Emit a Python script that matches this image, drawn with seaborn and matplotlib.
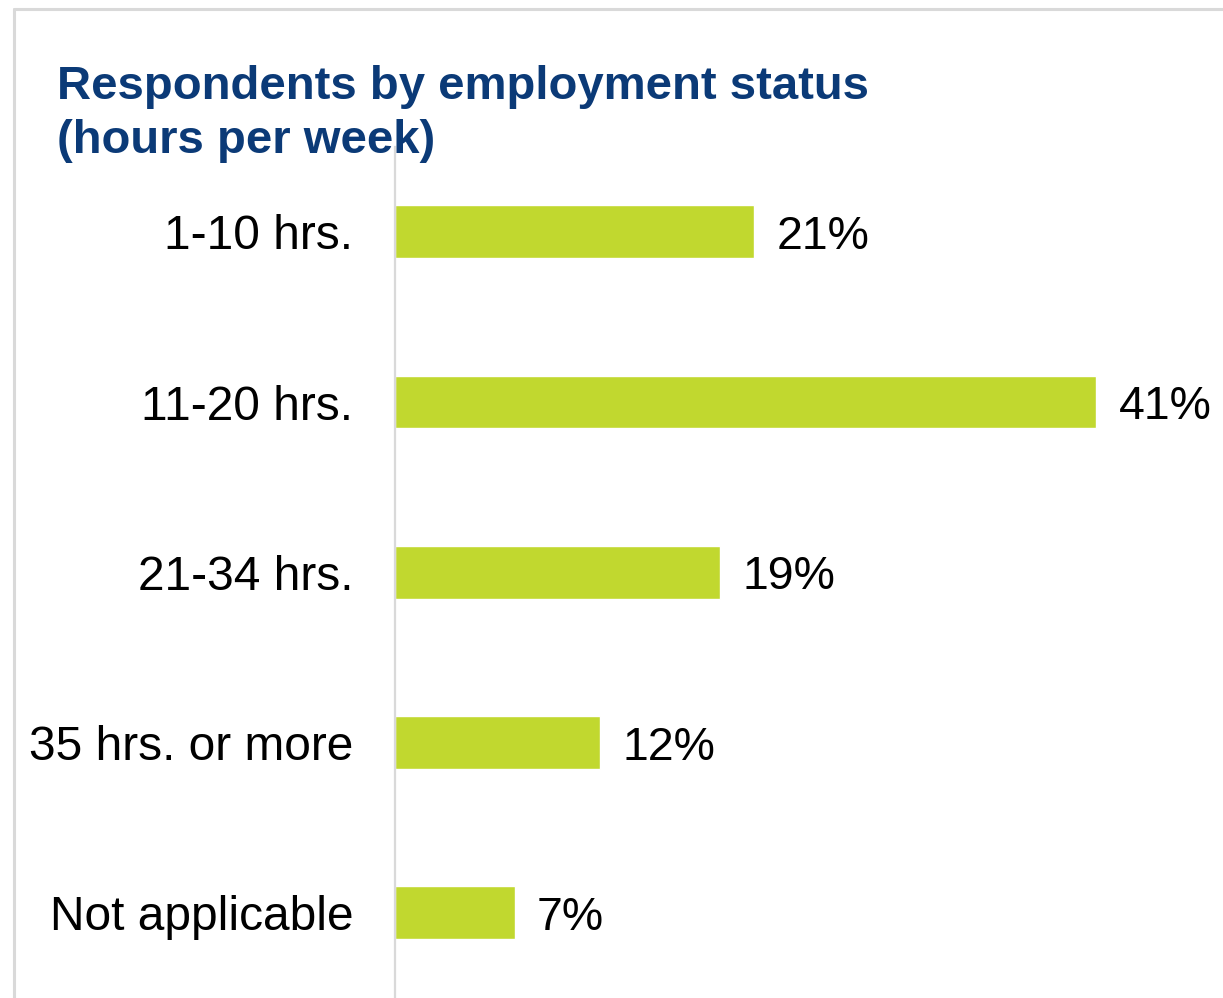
import matplotlib
matplotlib.use("Agg")
import matplotlib.pyplot as plt
import seaborn as sns
from matplotlib.lines import Line2D

# -----------------------------------
# Data
# -----------------------------------

categories = [
    "1-10 hrs.",
    "11-20 hrs.",
    "21-34 hrs.",
    "35 hrs. or more",
    "Not applicable",
]

percentages = [21, 41, 19, 12, 7]

value_labels = [f"{v}%" for v in percentages]

title = "Respondents by employment status\n(hours per week)"

# -----------------------------------
# Style
# -----------------------------------

sns.set_theme(style="white")
plt.rcParams["font.family"] = ["Liberation Sans", "DejaVu Sans"]

BAR_COLOR = "#C1D82F"
TITLE_COLOR = "#0B3A77"
GRID_GRAY = "#D9D9D9"

fig = plt.figure(figsize=(12.23, 9.98), dpi=100)
ax = fig.add_axes([0.323, 0.0, 0.677, 0.853])

sns.barplot(
    x=percentages,
    y=categories,
    orient="h",
    color=BAR_COLOR,
    saturation=1,
    width=0.31,
    ax=ax
)

ax.set_xlim(0, 48.4)
ax.set_ylim(4.5, -0.5)

texts = ax.bar_label(
    ax.containers[0],
    labels=value_labels,
    padding=16,
    fontsize=33.5,
    color="black"
)

for t in texts:
    t.set_va("center_baseline")

ax.set_xlabel("")
ax.set_ylabel("")
ax.set_xticks([])
ax.tick_params(axis="y", length=0, pad=30, labelsize=34.5, labelcolor="black")

for side in ["top", "right", "bottom"]:
    ax.spines[side].set_visible(False)

ax.spines["left"].set_color(GRID_GRAY)
ax.spines["left"].set_linewidth(1.6)

# -----------------------------------
# Title and outer frame
# -----------------------------------

fig.text(
    0.047,
    0.935,
    title,
    fontsize=34,
    fontweight="bold",
    color=TITLE_COLOR,
    ha="left",
    va="top",
    linespacing=1.3
)

fig.add_artist(Line2D([0.0115, 1.0], [0.9905, 0.9905], color=GRID_GRAY, linewidth=2.2, transform=fig.transFigure))
fig.add_artist(Line2D([0.0115, 0.0115], [0.0, 0.9905], color=GRID_GRAY, linewidth=2.2, transform=fig.transFigure))

fig.savefig("out.png", dpi=100)
